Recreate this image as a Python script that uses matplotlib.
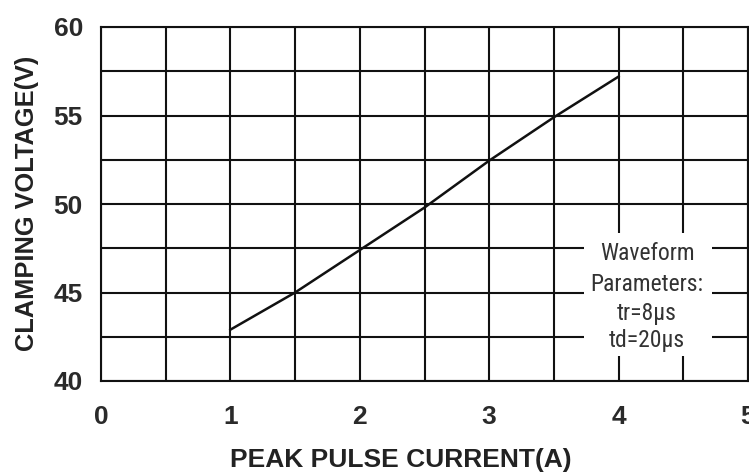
import matplotlib
matplotlib.use("Agg")
import matplotlib.pyplot as plt
from matplotlib import font_manager
from matplotlib.patches import Rectangle
import numpy as np

# Data
current = [1.0, 1.5, 2.0, 2.5, 3.0, 3.5, 4.0]
voltage = [42.9, 45.0, 47.4, 49.8, 52.45, 54.9, 57.2]
x_ticks = [0, 1, 2, 3, 4, 5]
y_ticks = [40, 45, 50, 55, 60]
note_lines = ["Waveform", "Parameters:", "tr=8\u03bcs", "td=20\u03bcs"]

# pick a condensed font if one is installed
fonts = font_manager.fontManager.ttflist
names = {f.name for f in fonts}
narrow_family = None
for cand in ['Liberation Sans Narrow', 'Roboto Condensed', 'Open Sans Condensed',
             'Arial Narrow']:
    if cand in names:
        narrow_family = cand
        break
narrow_stretch = 'normal'
if narrow_family is None:
    if any(f.name == 'DejaVu Sans' and f.stretch == 'condensed' for f in fonts):
        narrow_family = 'DejaVu Sans'
        narrow_stretch = 'condensed'
    else:
        narrow_family = 'Liberation Sans'

plt.rcParams['font.family'] = ['Liberation Sans', 'DejaVu Sans']

fig = plt.figure(figsize=(7.49, 4.76), dpi=100)
ax = fig.add_axes([101/749, 1-381/476, (748-101)/749, (381-27)/476])

ax.set_xlim(0, 5)
ax.set_ylim(40, 60)
ax.set_xticks(x_ticks)
ax.set_yticks(y_ticks)
ax.set_xticks(np.arange(0, 5.01, 0.5), minor=True)
ax.set_yticks(np.arange(40, 60.01, 2.5), minor=True)
ax.grid(which='both', color='#111111', linewidth=1.5)
ax.set_axisbelow(True)
ax.tick_params(which='both', length=0)
ax.tick_params(axis='x', pad=17)
ax.tick_params(axis='y', pad=13)
for lbl in ax.get_xticklabels() + ax.get_yticklabels():
    lbl.set_fontsize(19)
    lbl.set_fontweight('bold')
    lbl.set_color('#2a2a2a')
for s in ax.spines.values():
    s.set_color('#111111')
    s.set_linewidth(1.5)

ax.plot(current, voltage, color='#111111', linewidth=1.8, zorder=3)

# white note box covering the grid
ax.add_patch(Rectangle((3.73, 41.4), 0.99, 6.95, facecolor='white',
                       edgecolor='none', zorder=2))
ys = [47.2, 45.45, 43.8, 42.3]
if narrow_family == 'Liberation Sans':
    fs = 15
else:
    fs = 17
for t, yv in zip(note_lines, ys):
    ax.text(4.22, yv, t, ha='center', va='center', fontsize=fs,
            family=[narrow_family, 'DejaVu Sans'], fontstretch=narrow_stretch,
            color='#333333', zorder=4)

fig.text(401/749, 1-460/476, "PEAK PULSE CURRENT(A)", ha='center', va='center',
         fontsize=19, fontweight='bold', color='#222222')
fig.text(27/749, 1-203/476, "CLAMPING VOLTAGE(V)", ha='center', va='center',
         rotation=90, fontsize=18.3, fontweight='bold', color='#222222')

fig.savefig("out.png", dpi=100)
